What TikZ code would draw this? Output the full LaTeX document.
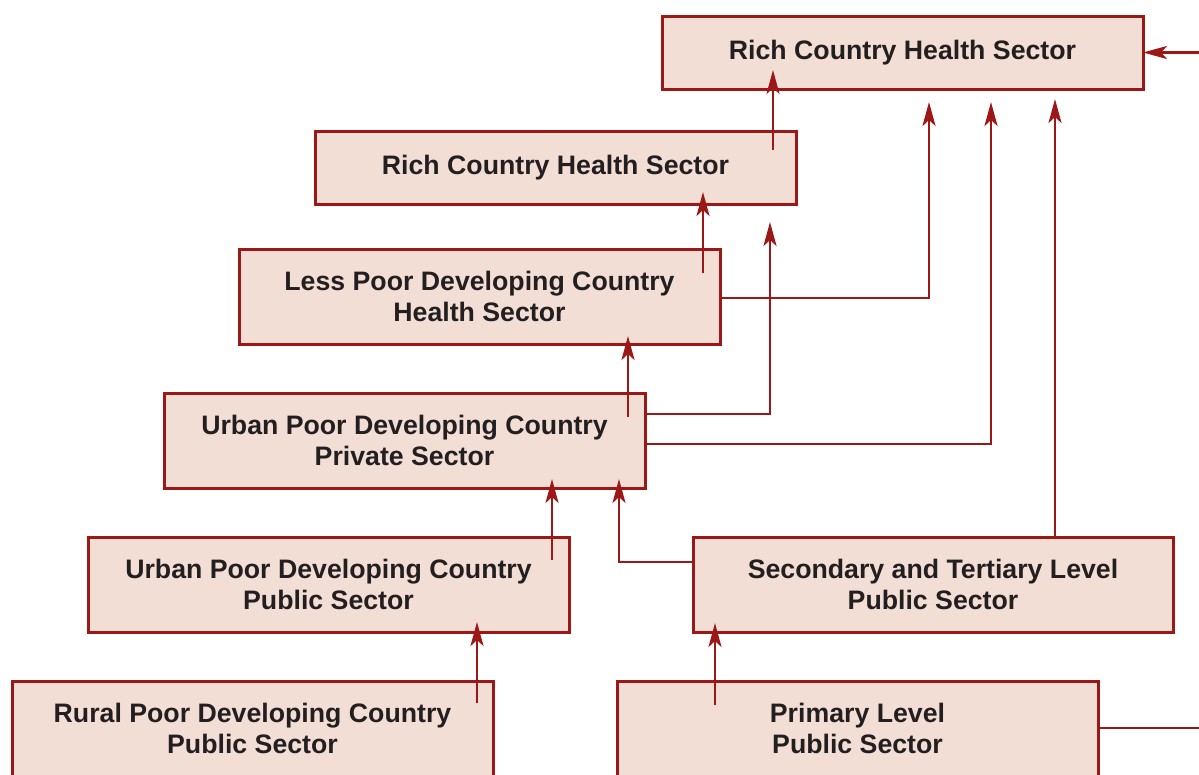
\documentclass[tikz,border=0pt]{standalone}
\usepackage{fontspec}
\setmainfont{Liberation Sans}
\usetikzlibrary{arrows.meta,calc}

\definecolor{secred}{RGB}{156,24,22}
\definecolor{secfill}{RGB}{242,222,213}
\definecolor{secgray}{RGB}{35,31,32}

\tikzset{
  sector/.style={draw=secred, fill=secfill, line width=3pt, minimum width=481pt, inner sep=0pt, outer sep=0pt, align=center, text=secgray, font=\bfseries\fontsize{26.7}{31.5}\selectfont},
  flow/.style={draw=secred, line width=2.8pt, -{Stealth[length=24pt,width=13pt,inset=6pt]}},
  link/.style={draw=secred, line width=2.8pt}
}

\begin{document}
\begin{tikzpicture}[x=1pt,y=1pt,yscale=-1,xscale=1]
		\path[use as bounding box, clip] (0,0) rectangle (1199,774);
		
		%Shape: Rectangle [rich1]
		\node [sector, minimum height=73pt, anchor=north west] (rich1) at (662,16) {Rich Country Health Sector};
		%Shape: Rectangle [rich2]
		\node [sector, minimum height=73pt, anchor=north west] (rich2) at (315,131) {Rich Country Health Sector};
		%Shape: Rectangle [less]
		\node [sector, minimum height=95pt, anchor=north west] (less) at (239,249) {Less Poor Developing Country\\Health Sector};
		%Shape: Rectangle [urbpriv]
		\node [sector, minimum height=95pt, anchor=north west] (urbpriv) at (164,393) {Urban Poor Developing Country\\Private Sector};
		%Shape: Rectangle [urbpub]
		\node [sector, minimum height=95pt, anchor=north west] (urbpub) at (88,537) {Urban Poor Developing Country\\Public Sector};
		%Shape: Rectangle [secter]
		\node [sector, minimum height=95pt, minimum width=480pt, anchor=north west] (secter) at (693,537) {Secondary and Tertiary Level\\Public Sector};
		%Shape: Rectangle [rural]
		\node [sector, minimum height=95pt, anchor=north west] (rural) at (12,681) {Rural Poor Developing Country\\Public Sector};
		%Shape: Rectangle [primary]
		\node [sector, minimum height=95pt, anchor=north west] (primary) at (617,681) {Primary Level\\Public Sector};
		%right edge of the diagram
		\coordinate (edgeE) at (1199,0);
		
		%Straight Lines
		\draw [flow] ($(rich2.north east)+(-23,19)$) -- ($(rich2.north east |- rich1.south)+(-23,-19)$);
		\draw [flow] ($(less.north east)+(-17,24)$) -- ($(less.north east |- rich2.south)+(-17,-12)$);
		\draw [flow] ($(urbpriv.north east)+(-17,24)$) -- ($(urbpriv.north east |- less.south)+(-17,-8)$);
		\draw [flow] ($(urbpub.north east)+(-17,23)$) -- ($(urbpub.north east |- urbpriv.south)+(-17,-9)$);
		\draw [flow] ($(rural.north east)+(-16,22)$) -- ($(rural.north east |- urbpub.south)+(-16,-10)$);
		\draw [flow] ($(primary.north west)+(98,24)$) -- ($(primary.north west |- secter.south)+(98,-9)$);
		\draw [flow] ($(secter.north east)+(-118,0)$) -- ($(secter.north east |- rich1.south)+(-118,10)$);
		%Elbow Lines
		\draw [flow] ($(urbpriv.north east)+(0,21)$) -| ($(rich2.south east)+(-26,18)$);
		\draw [flow] ($(less.north east)+(0,49)$) -| ($(rich1.south)+(26.5,13)$);
		\draw [flow] ($(urbpriv.north east)+(0,51)$) -| ($(rich1.south)+(88.5,13)$);
		\draw [flow] ($(secter.north west)+(0,25)$) -| ($(urbpriv.south east)+(-26,-9)$);
		%lines at the right edge
		\draw [link] ($(primary.north east)+(0,47)$) -- ($(edgeE |- primary.north east)+(0,47)$);
		\draw [flow] (edgeE |- rich1.east) -- (rich1.east);
		
\end{tikzpicture}
\end{document}
